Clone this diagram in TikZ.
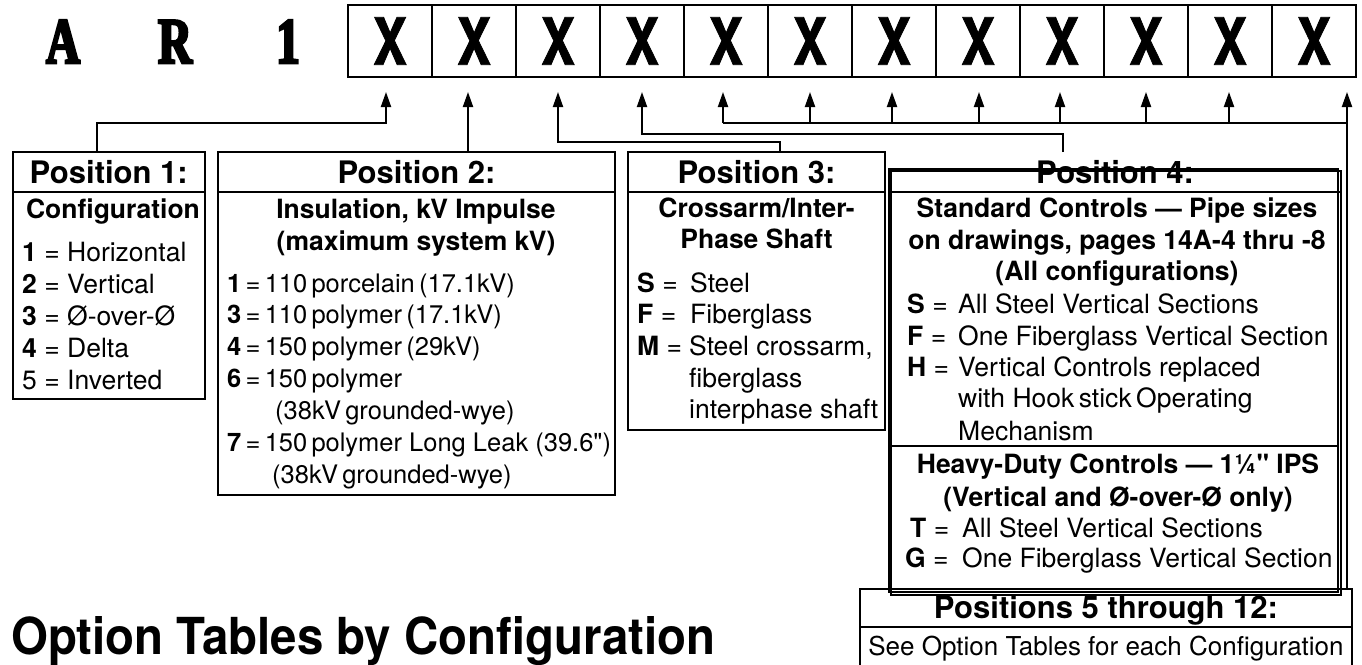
\documentclass[tikz,border=0pt]{standalone}
\usepackage{fontspec}
\setmainfont{TeX Gyre Heros}[Ligatures=TeXOff]
\newfontfamily\xfont[FakeStretch=0.78,FakeBold=1.2]{TeX Gyre Heros}
\newfontfamily\titlefont[FakeStretch=0.93]{TeX Gyre Heros}
\newfontfamily\fatserif[FakeStretch=0.72,FakeBold=4]{Liberation Serif}
\usetikzlibrary{arrows.meta}
\tikzset{
  box/.style={draw, line width=2pt, rectangle, inner sep=0pt, outer sep=0pt},
  cell/.style={draw, line width=2pt, rectangle, minimum width=84pt, minimum height=72pt, inner sep=0pt, outer sep=0pt, font=\xfont\bfseries\fontsize{65}{65}\selectfont},
  conn/.style={line width=2pt},
  arr/.style={line width=2pt, -{Triangle[length=15pt,width=10pt]}},
  hdr/.style={anchor=base, inner sep=0pt, font=\bfseries\fontsize{31}{31}\selectfont},
  sub/.style={anchor=base, inner sep=0pt, font=\bfseries\fontsize{26.5}{32}\selectfont},
  txt/.style={anchor=base west, inner sep=0pt, font=\fontsize{26.5}{32}\selectfont},
  ntxt/.style={anchor=base west, inner sep=0pt, font=\fontsize{25.5}{32}\selectfont},
  ctxt/.style={anchor=base, inner sep=0pt, font=\fontsize{26}{32}\selectfont},
  big/.style={anchor=base, inner sep=0pt, font=\fatserif\bfseries\fontsize{65}{65}\selectfont},
}
\begin{document}
\begin{tikzpicture}[x=1pt,y=-1pt]
\useasboundingbox (0,0) rectangle (1362,664);
% code header
\node[big] (lA) at (63,63) {A};
\node[big] (lR) at (175,63) {R};
\node[big] (l1) at (288,63) {1};
\foreach \i in {1,...,12} \node[cell] (c\i) at ({390+84*(\i-1)},41) {X};
\foreach \i/\x in {1/386,2/468,3/558,4/642,5/723,6/810,7/892,8/979,9/1060,10/1146,11/1229,12/1347}
  \coordinate (a\i) at (\x,92);
% boxes
\node[box, minimum width=192.5pt, minimum height=247pt] (p1) at (108.75,275.5) {};
\node[box, minimum width=397pt, minimum height=343pt] (p2) at (416.5,323.5) {};
\node[box, minimum width=257pt, minimum height=278pt] (p3) at (756.5,291) {};
\node[box, minimum width=449pt, minimum height=423pt] (p4a) at (1113.5,380.5) {};
\node[box, minimum width=450pt, minimum height=424.5pt] (p4b) at (1116,382.75) {};
\node[box, minimum width=492pt, minimum height=77pt] (p5) at (1106,627.5) {};
\coordinate (p4top) at (1063,152);
% header rules
\draw[conn] ([yshift=-40pt]p1.north west) -- ([yshift=-40pt]p1.north east);
\draw[conn] ([yshift=-40pt]p2.north west) -- ([yshift=-40pt]p2.north east);
\draw[conn] ([yshift=-40pt]p3.north west) -- ([yshift=-40pt]p3.north east);
\draw[conn] ([yshift=-23pt]p4a.north west) -- ([yshift=-23pt,xshift=4pt]p4a.north east);
\draw[conn] ([yshift=-277pt]p4a.north west) -- ([yshift=-277pt]p4a.north east);
\draw[conn] ([yshift=-38pt]p5.north west) -- ([yshift=-38pt]p5.north east);
% connectors
\draw[arr] ([xshift=-11.75pt]p1.north) |- ([yshift=-31pt]a1) -- (a1);
\draw[arr] (p2.north -| a2) -- (a2);
\draw[arr] ([xshift=23.5pt]p3.north) |- ([yshift=-49.7pt]a3) -- (a3);
\draw[arr] (p4top) |- ([yshift=-42pt]a4) -- (a4);
\draw[conn] (p5.north -| a12) |- ([yshift=-31pt]a5);
\foreach \i in {5,...,12} \draw[arr] ([yshift=-31pt]a\i) -- (a\i);
% Position 1
\node[hdr] (h1) at (108.75,183) {Position 1:};
\node[sub] (s1) at (113,218) {Configuration};
\node[txt] (t11) at (22,261) {\textbf{1} = Horizontal};
\node[txt] (t12) at (22,293) {\textbf{2} = Vertical};
\node[txt] (t13) at (22,325) {\textbf{3} = Ø-over-Ø};
\node[txt] (t14) at (22,357) {\textbf{4} = Delta};
\node[txt] (t15) at (22,389) {5 = Inverted};
% Position 2
\node[hdr] (h2) at (416.5,183) {Position 2:};
\node[sub] (s21) at (416,218) {Insulation, kV Impulse};
\node[sub] (s22) at (416,250) {(maximum system kV)};
\node[ntxt] (t21) at (227,292) {\textbf{1}\,=\,110\,porcelain\,(17.1kV)};
\node[ntxt] (t22) at (227,323) {\textbf{3}\,=\,110\,polymer\,(17.1kV)};
\node[ntxt] (t23) at (227,355) {\textbf{4}\,=\,150\,polymer\,(29kV)};
\node[ntxt] (t24) at (227,387) {\textbf{6}\,=\,150\,polymer};
\node[ntxt] (t25) at (275,419) {(38kV\,grounded-wye)};
\node[ntxt] (t26) at (227,451) {\textbf{7}\,=\,150\,polymer Long Leak (39.6")};
\node[ntxt] (t27) at (272,483) {(38kV\,grounded-wye)};
% Position 3
\node[hdr] (h3) at (756.5,183) {Position 3:};
\node[sub] (s31) at (756.5,217) {Crossarm/Inter-};
\node[sub] (s32) at (756.5,248) {Phase Shaft};
\node[txt] (k31) at (637,292) {\textbf{S} =};
\node[txt] (t31) at (690,292) {Steel};
\node[txt] (k32) at (637,323) {\textbf{F} =};
\node[txt] (t32) at (690,323) {Fiberglass};
\node[txt] (k33) at (637,355) {\textbf{M} =};
\node[txt] (t33) at (689,355) {Steel crossarm,};
\node[txt] (t34) at (689,387) {fiberglass};
\node[txt] (t35) at (689,418) {interphase shaft};
% Position 4
\node[hdr] (h4) at (1115,183) {Position 4:};
\node[sub] (s41) at (1117,217) {Standard Controls — Pipe sizes};
\node[sub] (s42) at (1117,249) {on drawings, pages 14A-4 thru -8};
\node[sub] (s43) at (1117,280) {(All configurations)};
\node[txt] (k41) at (907,313) {\textbf{S} =};
\node[txt] (t41) at (958,313) {All Steel Vertical Sections};
\node[txt] (k42) at (907,345) {\textbf{F} =};
\node[txt] (t42) at (958,345) {One Fiberglass Vertical Section};
\node[txt] (k43) at (907,376) {\textbf{H} =};
\node[txt] (t43) at (958,376) {Vertical Controls replaced};
\node[txt] (t44) at (958,407) {with Hook\,stick\,Operating};
\node[txt] (t45) at (958,440) {Mechanism};
\node[sub] (s44) at (1118,473) {Heavy-Duty Controls — 1¼" IPS};
\node[sub] (s45) at (1118,506) {(Vertical and Ø-over-Ø only)};
\node[txt] (k46) at (910,537) {\textbf{T} =};
\node[txt] (t46) at (962,537) {All Steel Vertical Sections};
\node[txt] (k47) at (905,567) {\textbf{G} =};
\node[txt] (t47) at (962,567) {One Fiberglass Vertical Section};
% Positions 5-12
\node[hdr] (h5) at (1106,618) {Positions 5 through 12:};
\node[ctxt] (t5) at (1106,655) {See Option Tables for each Configuration};
% bottom title
\node[anchor=base west, inner sep=0pt, font=\titlefont\bfseries\fontsize{51}{51}\selectfont] (ttl) at (11,654) {Option Tables by Configuration};
\end{tikzpicture}
\end{document}
